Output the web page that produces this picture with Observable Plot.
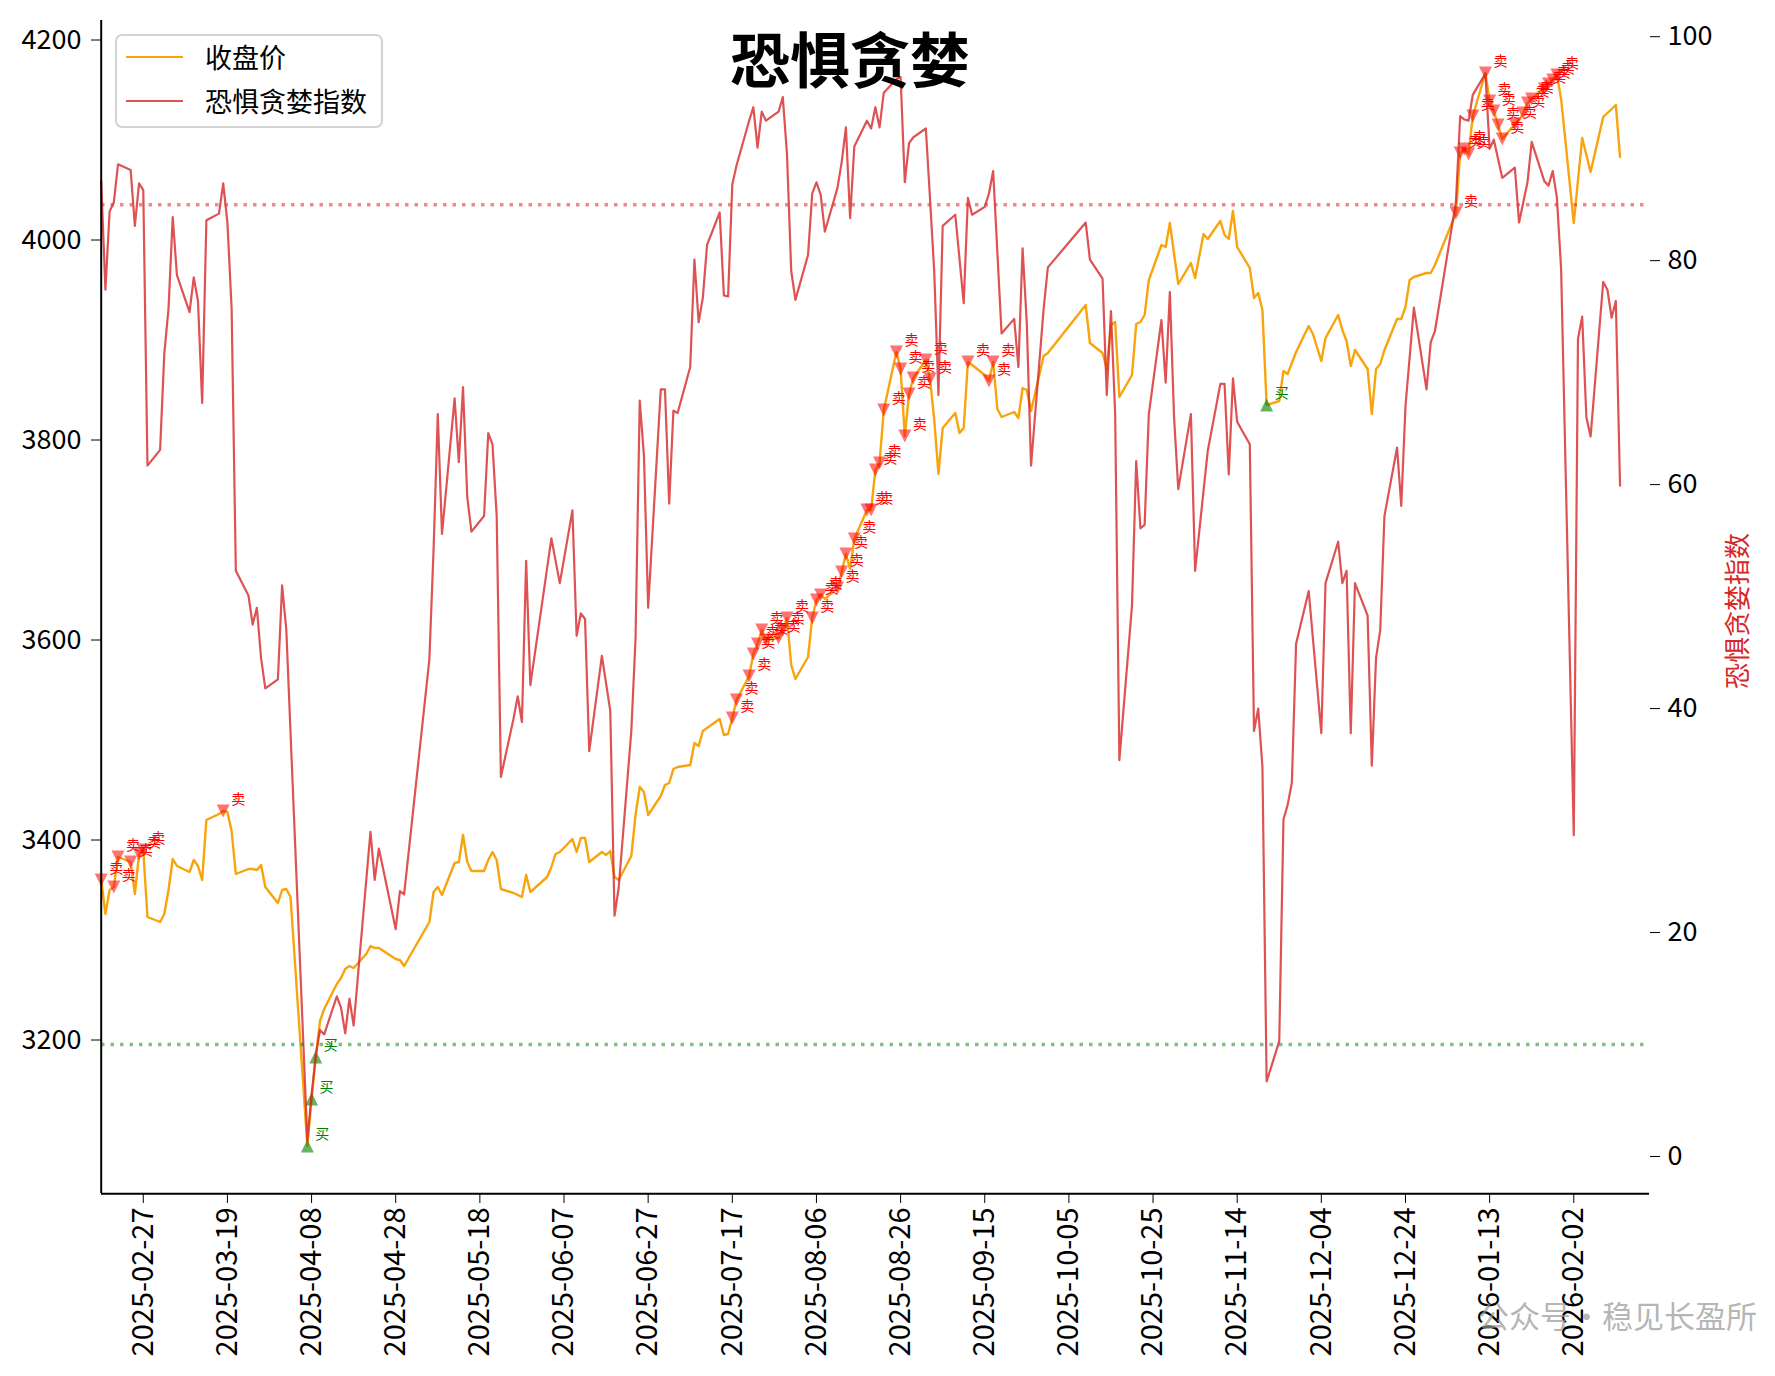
<!DOCTYPE html>
<html>
<head>
<meta charset="utf-8">
<script src="https://cdn.jsdelivr.net/npm/d3@7"></script>
<script src="https://cdn.jsdelivr.net/npm/@observablehq/plot@0.6"></script>
<style>
  body { margin: 0; background: #fff; }
  #wrap { position: relative; width: 1775px; height: 1376px; overflow: hidden; background: #fff;
          font-family: "Noto Sans CJK SC", "Noto Sans", sans-serif; }
  #wrap svg { position: absolute; left: 0; top: 0; }
  .title { position: absolute; left: 850px; top: 22px; transform: translateX(-50%); font-size: 60px;
           font-weight: 700; line-height: 70px; color: #000; white-space: nowrap; }
  .legend { position: absolute; left: 115px; top: 34px; width: 264px; height: 90px;
            border: 2px solid #d3d3d3; border-radius: 7px; background: rgba(255,255,255,0.85); }
  .legend .row { position: absolute; left: 0; height: 34px; width: 100%; }
  .legend .sw { position: absolute; left: 9px; top: 16px; width: 57px; height: 2.4px; }
  .legend .lb { position: absolute; left: 88px; top: 0; font-size: 27px; line-height: 34px; color: #000; white-space: nowrap; }
  .wm { position: absolute; left: 1478px; top: 1295px; font-size: 31px; line-height: 40px;
        color: rgba(150,150,150,0.7); white-space: nowrap; }
</style>
</head>
<body>
<div id="wrap"></div>
<script>
// ---------------- data ----------------
const closeDates = [
"2025-02-17","2025-02-18","2025-02-19","2025-02-20","2025-02-21","2025-02-24","2025-02-25","2025-02-26","2025-02-27","2025-02-28",
"2025-03-03","2025-03-04","2025-03-05","2025-03-06","2025-03-07","2025-03-10","2025-03-11","2025-03-12","2025-03-13","2025-03-14",
"2025-03-17","2025-03-18","2025-03-19","2025-03-20","2025-03-21","2025-03-24","2025-03-25","2025-03-26","2025-03-27","2025-03-28",
"2025-03-31","2025-04-01","2025-04-02","2025-04-03","2025-04-07","2025-04-08","2025-04-09","2025-04-10","2025-04-11","2025-04-14",
"2025-04-15","2025-04-16","2025-04-17","2025-04-18","2025-04-21","2025-04-22","2025-04-23","2025-04-24","2025-04-28","2025-04-29",
"2025-04-30","2025-05-06","2025-05-07","2025-05-08","2025-05-09","2025-05-12","2025-05-13","2025-05-14","2025-05-15","2025-05-16",
"2025-05-19","2025-05-20","2025-05-21","2025-05-22","2025-05-23","2025-05-26","2025-05-27","2025-05-28","2025-05-29","2025-05-30",
"2025-06-03","2025-06-04","2025-06-05","2025-06-06","2025-06-09","2025-06-10","2025-06-11","2025-06-12","2025-06-13","2025-06-16",
"2025-06-17","2025-06-18","2025-06-19","2025-06-20","2025-06-23","2025-06-24","2025-06-25","2025-06-26","2025-06-27","2025-06-30",
"2025-07-01","2025-07-02","2025-07-03","2025-07-04","2025-07-07","2025-07-08","2025-07-09","2025-07-10","2025-07-11","2025-07-14",
"2025-07-15","2025-07-16","2025-07-17","2025-07-18","2025-07-21","2025-07-22","2025-07-23","2025-07-24","2025-07-25","2025-07-28",
"2025-07-29","2025-07-30","2025-07-31","2025-08-01","2025-08-04","2025-08-05","2025-08-06","2025-08-07","2025-08-08","2025-08-11",
"2025-08-12","2025-08-13","2025-08-14","2025-08-15","2025-08-18","2025-08-19","2025-08-20","2025-08-21","2025-08-22","2025-08-25",
"2025-08-26","2025-08-27","2025-08-28","2025-08-29","2025-09-01","2025-09-02","2025-09-03","2025-09-04","2025-09-05","2025-09-08",
"2025-09-09","2025-09-10","2025-09-11","2025-09-12","2025-09-15","2025-09-16","2025-09-17","2025-09-18","2025-09-19","2025-09-22",
"2025-09-23","2025-09-24","2025-09-25","2025-09-26","2025-09-29","2025-09-30","2025-10-09","2025-10-10","2025-10-13","2025-10-14",
"2025-10-15","2025-10-16","2025-10-17","2025-10-20","2025-10-21","2025-10-22","2025-10-23","2025-10-24","2025-10-27","2025-10-28",
"2025-10-29","2025-10-30","2025-10-31","2025-11-03","2025-11-04","2025-11-06","2025-11-07","2025-11-10","2025-11-11","2025-11-12",
"2025-11-13","2025-11-14","2025-11-17","2025-11-18","2025-11-19","2025-11-20","2025-11-21","2025-11-24","2025-11-25","2025-11-26",
"2025-11-27","2025-11-28","2025-12-01","2025-12-02","2025-12-04","2025-12-05","2025-12-08","2025-12-09","2025-12-10","2025-12-11",
"2025-12-12","2025-12-15","2025-12-16","2025-12-17","2025-12-18","2025-12-19","2025-12-22","2025-12-23","2025-12-24","2025-12-25",
"2025-12-26","2025-12-29","2025-12-30","2025-12-31","2026-01-05","2026-01-06","2026-01-07","2026-01-08","2026-01-09","2026-01-12",
"2026-01-13","2026-01-14","2026-01-15","2026-01-16","2026-01-19","2026-01-20","2026-01-21","2026-01-22","2026-01-23","2026-01-26",
"2026-01-27","2026-01-28","2026-01-29","2026-01-30","2026-02-02","2026-02-04","2026-02-06","2026-02-09","2026-02-12","2026-02-13"
];
const closeValues = [
3360,3326,3350,3353,3383,3378,3346,3386,3390,3323,
3318,3326,3350,3381,3374,3368,3380,3374,3360,3420,
3426,3429,3428,3409,3366,3371,3371,3370,3375,3353,
3337,3350,3351,3343,3094,3141,3183,3219,3231,3256,
3262,3271,3274,3272,3286,3294,3292,3292,3281,3280,
3274,3318,3348,3353,3345,3377,3378,3405,3378,3369,
3369,3380,3388,3380,3351,3347,3345,3343,3365,3348,
3363,3373,3386,3388,3401,3388,3402,3402,3378,3388,
3385,3389,3363,3360,3384,3425,3453,3448,3425,3444,
3455,3457,3471,3473,3475,3497,3494,3509,3512,3521,
3505,3506,3522,3540,3564,3586,3596,3610,3600,3602,
3610,3622,3575,3561,3583,3622,3640,3645,3641,3652,
3668,3686,3671,3701,3730,3730,3770,3777,3830,3888,
3871,3804,3846,3862,3880,3861,3820,3766,3812,3827,
3807,3812,3878,3875,3865,3859,3878,3831,3823,3828,
3822,3852,3850,3829,3884,3887,3935,3897,3887,3871,
3915,3918,3843,3865,3916,3918,3925,3960,3995,3993,
4017,3986,3956,3977,3962,4006,4001,4019,4005,4001,
4029,3993,3972,3942,3947,3930,3835,3839,3869,3866,
3877,3888,3914,3906,3879,3902,3925,3910,3899,3874,
3890,3871,3826,3871,3876,3890,3921,3921,3933,3960,
3963,3967,3967,3975,4027,4087,4091,4086,4124,4167,
4139,4129,4115,4101,4116,4120,4127,4137,4141,4151,
4156,4160,4165,4141,4017,4102,4068,4123,4135,4083
];

const fgDates = [
"2025-02-17","2025-02-18","2025-02-19","2025-02-20","2025-02-21","2025-02-24","2025-02-25","2025-02-26","2025-02-27","2025-02-28",
"2025-03-03","2025-03-04","2025-03-05","2025-03-06","2025-03-07","2025-03-10","2025-03-11","2025-03-12","2025-03-13","2025-03-14",
"2025-03-17","2025-03-18","2025-03-19","2025-03-20","2025-03-21","2025-03-24","2025-03-25","2025-03-26","2025-03-27","2025-03-28",
"2025-03-31","2025-04-01","2025-04-02","2025-04-07","2025-04-08","2025-04-09","2025-04-10","2025-04-11","2025-04-14","2025-04-15",
"2025-04-16","2025-04-17","2025-04-18","2025-04-22","2025-04-23","2025-04-24","2025-04-28","2025-04-29","2025-04-30","2025-05-06",
"2025-05-07","2025-05-08","2025-05-09","2025-05-12","2025-05-13","2025-05-14","2025-05-15","2025-05-16","2025-05-19","2025-05-20",
"2025-05-21","2025-05-22","2025-05-23","2025-05-26","2025-05-27","2025-05-28","2025-05-29","2025-05-30","2025-06-04","2025-06-06",
"2025-06-09","2025-06-10","2025-06-11","2025-06-12","2025-06-13","2025-06-16","2025-06-18","2025-06-19","2025-06-20","2025-06-23",
"2025-06-24","2025-06-25","2025-06-26","2025-06-27","2025-06-30","2025-07-01","2025-07-02","2025-07-03","2025-07-04","2025-07-07",
"2025-07-08","2025-07-09","2025-07-10","2025-07-11","2025-07-14","2025-07-15","2025-07-16","2025-07-17","2025-07-18","2025-07-21",
"2025-07-22","2025-07-23","2025-07-24","2025-07-25","2025-07-28","2025-07-29","2025-07-30","2025-07-31","2025-08-01","2025-08-04",
"2025-08-05","2025-08-06","2025-08-07","2025-08-08","2025-08-11","2025-08-12","2025-08-13","2025-08-14","2025-08-15","2025-08-18",
"2025-08-19","2025-08-20","2025-08-21","2025-08-22","2025-08-25","2025-08-26","2025-08-27","2025-08-28","2025-08-29","2025-09-01",
"2025-09-02","2025-09-03","2025-09-04","2025-09-05","2025-09-08","2025-09-10","2025-09-11","2025-09-12","2025-09-15","2025-09-16",
"2025-09-17","2025-09-19","2025-09-22","2025-09-23","2025-09-24","2025-09-25","2025-09-26","2025-09-29","2025-09-30","2025-10-09",
"2025-10-10","2025-10-13","2025-10-14","2025-10-15","2025-10-16","2025-10-17","2025-10-20","2025-10-21","2025-10-22","2025-10-23",
"2025-10-24","2025-10-27","2025-10-28","2025-10-29","2025-10-30","2025-10-31","2025-11-03","2025-11-04","2025-11-07","2025-11-10",
"2025-11-11","2025-11-12","2025-11-13","2025-11-14","2025-11-17","2025-11-18","2025-11-19","2025-11-20","2025-11-21","2025-11-24",
"2025-11-25","2025-11-26","2025-11-27","2025-11-28","2025-12-01","2025-12-04","2025-12-05","2025-12-08","2025-12-09","2025-12-10",
"2025-12-11","2025-12-12","2025-12-15","2025-12-16","2025-12-17","2025-12-18","2025-12-19","2025-12-22","2025-12-23","2025-12-24",
"2025-12-26","2025-12-29","2025-12-30","2025-12-31","2026-01-05","2026-01-06","2026-01-07","2026-01-08","2026-01-09","2026-01-12",
"2026-01-13","2026-01-14","2026-01-16","2026-01-19","2026-01-20","2026-01-22","2026-01-23","2026-01-26","2026-01-27","2026-01-28",
"2026-01-29","2026-01-30","2026-02-02","2026-02-03","2026-02-04","2026-02-05","2026-02-06","2026-02-09","2026-02-10","2026-02-11",
"2026-02-12","2026-02-13"
];
const fgValues = [
87.1,77.4,84.4,85.2,88.6,88.1,83.1,86.9,86.3,61.7,
63.1,71.7,75.7,83.9,78.7,75.4,78.5,76.4,67.3,83.6,
84.2,86.9,83.4,75.7,52.3,50.1,47.5,49.0,44.5,41.8,
42.6,51.0,47.0,1.4,5.5,9.0,11.3,10.9,14.3,13.3,
11.0,14.1,11.7,29.0,24.7,27.5,20.3,23.7,23.4,44.4,
54.2,66.3,55.6,67.7,62.0,68.7,58.9,55.8,57.2,64.6,
63.6,57.2,33.9,39.1,41.1,38.8,53.2,42.1,55.2,51.2,
57.7,46.5,48.5,48.0,36.2,44.7,39.8,21.5,24.0,38.0,
46.2,67.5,62.6,49.0,68.5,68.5,58.3,66.6,66.4,70.5,
80.1,74.5,76.7,81.4,84.3,76.9,76.8,86.8,88.5,92.5,
93.7,90.1,93.3,92.5,93.3,94.6,89.5,79.1,76.5,80.5,
86.0,87.0,85.9,82.6,86.5,88.8,91.9,83.8,90.2,92.5,
91.8,93.7,91.9,95.0,96.2,96.4,87.0,90.5,91.0,91.8,
85.5,79.0,68.0,83.1,84.1,76.2,85.6,84.1,84.8,86.0,
88.0,73.5,74.8,70.5,81.1,74.4,61.7,75.7,79.4,83.4,
80.1,78.4,68.0,75.5,66.3,35.4,49.2,62.1,56.1,56.4,
66.3,74.7,69.1,77.2,66.0,59.6,66.3,52.3,63.0,69.0,
69.0,60.9,69.5,65.6,63.6,38.0,40.0,34.8,6.7,10.3,
30.1,31.4,33.4,45.8,50.5,37.8,51.2,54.9,51.2,52.3,
37.8,51.2,48.3,34.9,44.5,47.0,57.2,63.3,58.1,67.0,
75.8,68.5,72.7,73.7,85.3,92.9,92.6,92.5,94.8,96.7,
90.0,90.8,87.4,88.3,83.4,87.0,90.6,87.1,86.7,88.0,
85.6,79.2,28.7,73.0,75.0,66.0,64.3,78.1,77.4,74.9,
76.4,59.9
];

// signal days (fear & greed > 85 -> sell, < 10 -> buy)
const sellDates = [
"2025-02-17","2025-02-20","2025-02-21","2025-02-24","2025-02-26","2025-02-27","2025-03-18",
"2025-07-17","2025-07-18","2025-07-21","2025-07-22","2025-07-23","2025-07-24","2025-07-25","2025-07-28","2025-07-29","2025-07-30",
"2025-08-05","2025-08-06","2025-08-07","2025-08-11","2025-08-12","2025-08-13","2025-08-15","2025-08-18","2025-08-19","2025-08-20",
"2025-08-21","2025-08-22","2025-08-25","2025-08-26","2025-08-27","2025-08-28","2025-08-29","2025-09-01","2025-09-02",
"2025-09-11","2025-09-16","2025-09-17",
"2026-01-05","2026-01-06","2026-01-07","2026-01-08","2026-01-09","2026-01-12","2026-01-13","2026-01-14","2026-01-15","2026-01-16",
"2026-01-19","2026-01-21","2026-01-22","2026-01-23","2026-01-26","2026-01-27","2026-01-28","2026-01-29"
];
const buyDates = ["2025-04-07","2025-04-08","2025-04-09","2025-11-21"];

const sellLevel = 85;
const buyLevel = 10;

const xTickDates = ["2025-02-27","2025-03-19","2025-04-08","2025-04-28","2025-05-18","2025-06-07","2025-06-27","2025-07-17",
  "2025-08-06","2025-08-26","2025-09-15","2025-10-05","2025-10-25","2025-11-14","2025-12-04","2025-12-24","2026-01-13","2026-02-02"];
const leftTicks = [3200, 3400, 3600, 3800, 4000, 4200];
const rightTicks = [0, 20, 40, 60, 80, 100];

// ---------------- scales setup ----------------
const xDomain = [new Date("2025-02-17"), new Date("2026-02-20")];
const yDomain = [3046.2, 4219.1];      // left axis (close)
const fgDomain = [-3.33, 101.41];      // right axis (fear & greed)
const fgToY = v => yDomain[0] + (v - fgDomain[0]) * (yDomain[1] - yDomain[0]) / (fgDomain[1] - fgDomain[0]);
const yToFg = p => fgDomain[0] + (p - yDomain[0]) * (fgDomain[1] - fgDomain[0]) / (yDomain[1] - yDomain[0]);

const closeData = closeDates.map((d, i) => ({date: new Date(d), close: closeValues[i]}));
const fgData = fgDates.map((d, i) => ({date: new Date(d), fg: fgValues[i]}));
const closeByDate = new Map(closeDates.map((d, i) => [d, closeValues[i]]));
const sellData = sellDates.map(d => ({date: new Date(d), close: closeByDate.get(d)}));
const buyData = buyDates.map(d => ({date: new Date(d), close: closeByDate.get(d)}));

const triDown = {draw(ctx, size) { const h = Math.sqrt(size / Math.PI); ctx.moveTo(0, h); ctx.lineTo(-h, -h); ctx.lineTo(h, -h); ctx.closePath(); }};
const triUp = {draw(ctx, size) { const h = Math.sqrt(size / Math.PI); ctx.moveTo(0, -h); ctx.lineTo(-h, h); ctx.lineTo(h, h); ctx.closePath(); }};

const W = 1775, H = 1376;
const chart = Plot.plot({
  width: W, height: H,
  marginLeft: 101, marginRight: 126, marginTop: 20, marginBottom: 183,
  x: {type: "utc", domain: xDomain, range: [100.7, 1649]},
  y: {domain: yDomain, range: [1193.3, 20.4]},
  style: {fontFamily: "'Noto Sans CJK SC', 'Noto Sans', sans-serif", fontSize: "27px", background: "transparent", color: "#000", overflow: "visible"},
  marks: [
    // close price
    Plot.line(closeData, {x: "date", y: "close", stroke: "#f7a40e", strokeWidth: 2.4, curve: "linear"}),
    // signals
    Plot.dot(sellData, {x: "date", y: "close", symbol: triDown, r: 6.5, fill: "red", fillOpacity: 0.55, stroke: "none"}),
    Plot.text(sellData, {x: "date", y: "close", text: () => "卖", dx: 8, dy: -7, textAnchor: "start", lineAnchor: "bottom", fill: "red", fontSize: 14}),
    Plot.dot(buyData, {x: "date", y: "close", symbol: triUp, r: 6.5, fill: "green", fillOpacity: 0.6, stroke: "none"}),
    Plot.text(buyData, {x: "date", y: "close", text: () => "买", dx: 8, dy: -7, textAnchor: "start", lineAnchor: "bottom", fill: "green", fontSize: 14}),
    // fear & greed (right axis)
    Plot.line(fgData, {x: "date", y: d => fgToY(d.fg), stroke: "#d62728", strokeOpacity: 0.8, strokeWidth: 2.2}),
    Plot.ruleY([fgToY(sellLevel)], {stroke: "#e03c3c", strokeOpacity: 0.6, strokeWidth: 3.5, strokeDasharray: "3.5,6"}),
    Plot.ruleY([fgToY(buyLevel)], {stroke: "green", strokeOpacity: 0.5, strokeWidth: 3.5, strokeDasharray: "3.5,6"}),
    // spines
    Plot.ruleX([xDomain[0]], {stroke: "#000", strokeWidth: 2}),
    Plot.ruleY([yDomain[0]], {stroke: "#000", strokeWidth: 2}),
    // axes
    Plot.axisY({anchor: "left", ticks: leftTicks, tickFormat: d => String(d), tickSize: 10, tickPadding: 10, label: null, fontSize: 27}),
    Plot.axisY({anchor: "right", ticks: rightTicks.map(fgToY), tickFormat: d => String(Math.round(yToFg(d))), tickSize: 10, tickPadding: 8, label: null, fontSize: 27}),
    Plot.axisX({ticks: xTickDates.map(d => new Date(d)), tickFormat: d3.utcFormat("%Y-%m-%d"), tickRotate: -90, tickSize: 10, tickPadding: 4, label: null, fontSize: 29}),
    Plot.text(["恐惧贪婪指数"], {frameAnchor: "right", dx: 89, dy: 4, rotate: -90, textAnchor: "middle", fill: "#d62728", fontSize: 26})
  ]
});

const wrap = document.getElementById("wrap");
wrap.appendChild(chart);

const title = document.createElement("div");
title.className = "title";
title.textContent = "恐惧贪婪";
wrap.appendChild(title);

const legendItems = [{label: "收盘价", color: "#f7a40e", op: 1}, {label: "恐惧贪婪指数", color: "#d62728", op: 0.8}];
const legend = document.createElement("div");
legend.className = "legend";
legendItems.forEach((it, i) => {
  const row = document.createElement("div");
  row.className = "row";
  row.style.top = (4 + i * 44) + "px";
  const sw = document.createElement("div");
  sw.className = "sw";
  sw.style.background = it.color;
  sw.style.opacity = it.op;
  const lb = document.createElement("div");
  lb.className = "lb";
  lb.textContent = it.label;
  row.appendChild(sw); row.appendChild(lb);
  legend.appendChild(row);
});
wrap.appendChild(legend);

const wm = document.createElement("div");
wm.className = "wm";
wm.textContent = "公众号·稳见长盈所";
wrap.appendChild(wm);
</script>
</body>
</html>
